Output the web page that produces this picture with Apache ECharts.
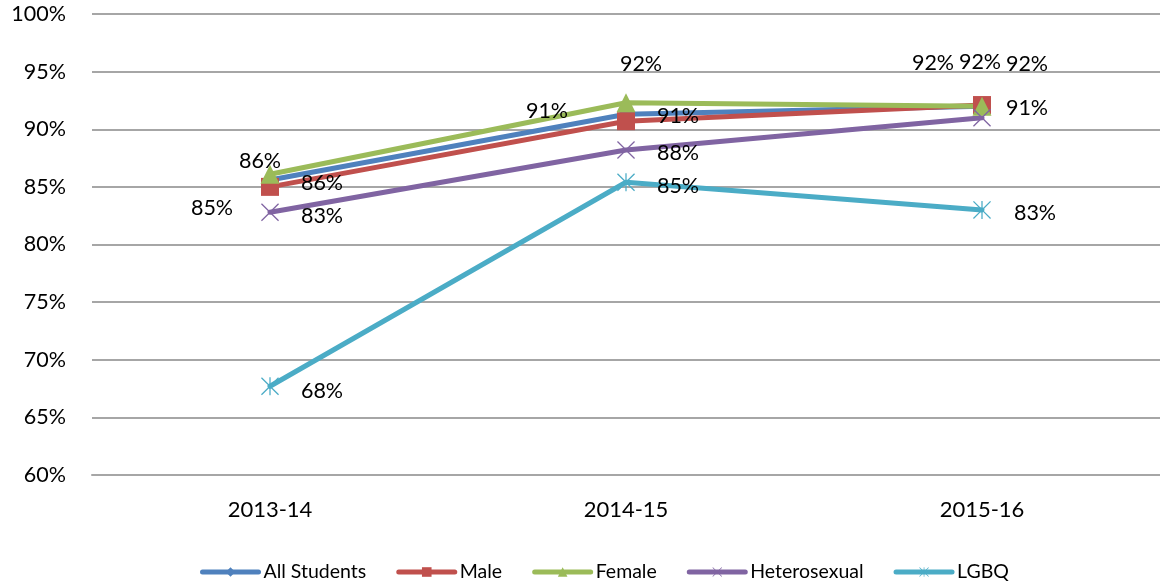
<!DOCTYPE html>
<html>
<head>
<meta charset="utf-8">
<script src="https://cdn.jsdelivr.net/npm/echarts@6/dist/echarts.min.js"></script>
<style>
  html, body { margin: 0; padding: 0; background: #fff; }
  #main { width: 1160px; height: 582px; }
</style>
</head>
<body>
<div id="main"></div>
<script>
const years = ['2013-14', '2014-15', '2015-16']

const allStudents = [85.6, 91.3, 92.0]
const male = [85.0, 90.7, 92.1]
const female = [86.1, 92.3, 92.0]
const heterosexual = [82.8, 88.2, 91.0]
const lgbq = [67.7, 85.4, 83.0]

// label offsets from the point (px), like the excel layout
const labelOffsets = {
  'All Students': [[52, 3], [-79, -3], [-49, -43]],
  'Male': [[-58, 21], [52, -5], [-2, -43]],
  'Female': [[-10, -13], [15, -39], [45, -42]],
  'Heterosexual': [[52, 4], [52, 3], [45, -10]],
  'LGBQ': [[52, 5], [52, 4], [53, 3]]
}

const xMark = 'path://M0,1 L1,0 L10,9 L19,0 L20,1 L11,10 L20,19 L19,20 L10,11 L1,20 L0,19 L9,10 Z'
const star = 'path://M0,1 L1,0 L10,9 L19,0 L20,1 L11,10 L20,19 L19,20 L10,11 L1,20 L0,19 L9,10 Z M9.3,0 L10.7,0 L10.7,20 L9.3,20 Z'

const makeSeries = (name, values, color, symbol, size) => ({
  name,
  type: 'line',
  data: values.map((v, i) => ({
    value: v,
    label: { offset: labelOffsets[name][i] }
  })),
  color,
  symbol,
  symbolSize: size,
  showAllSymbol: true,
  lineStyle: { width: 5, cap: 'round', join: 'round' },
  itemStyle: { color },
  label: {
    show: true,
    position: 'inside',
    align: 'center',
    verticalAlign: 'middle',
    color: '#000',
    fontSize: 21.5,
    fontFamily: 'Lato',
    formatter: p => Math.round(p.value) + '%'
  },
  emphasis: { disabled: true }
})

const chart = echarts.init(document.getElementById('main'))
chart.setOption({
  animation: false,
  backgroundColor: '#fff',
  textStyle: { fontFamily: 'Lato' },
  grid: { left: 92, top: 14, width: 1075, height: 461, containLabel: false },
  legend: {
    left: 195,
    top: 557,
    itemWidth: 56,
    itemHeight: 12,
    itemGap: 30,
    lineStyle: { width: 5, cap: 'round' },
    textStyle: { fontSize: 19.5, color: '#000', fontFamily: 'Lato' },
    data: ['All Students', 'Male', 'Female', 'Heterosexual', 'LGBQ']
  },
  xAxis: {
    type: 'category',
    data: years,
    axisLine: { lineStyle: { color: '#a6a6a6', width: 2 } },
    axisTick: { show: false },
    axisLabel: { color: '#000', fontSize: 22, margin: 24 }
  },
  yAxis: {
    type: 'value',
    min: 60,
    max: 100,
    interval: 5,
    axisLine: { show: false },
    axisTick: { show: false },
    axisLabel: { color: '#000', fontSize: 21.5, margin: 26, formatter: '{value}%' },
    splitLine: { lineStyle: { color: '#a6a6a6', width: 2 } }
  },
  series: [
    makeSeries('All Students', allStudents, '#4F81BD', 'diamond', 16),
    makeSeries('Male', male, '#C0504D', 'rect', 18),
    makeSeries('Female', female, '#9BBB59', 'triangle', 19),
    makeSeries('Heterosexual', heterosexual, '#8064A2', xMark, 18),
    makeSeries('LGBQ', lgbq, '#4BACC6', star, 18)
  ]
})
</script>
</body>
</html>
